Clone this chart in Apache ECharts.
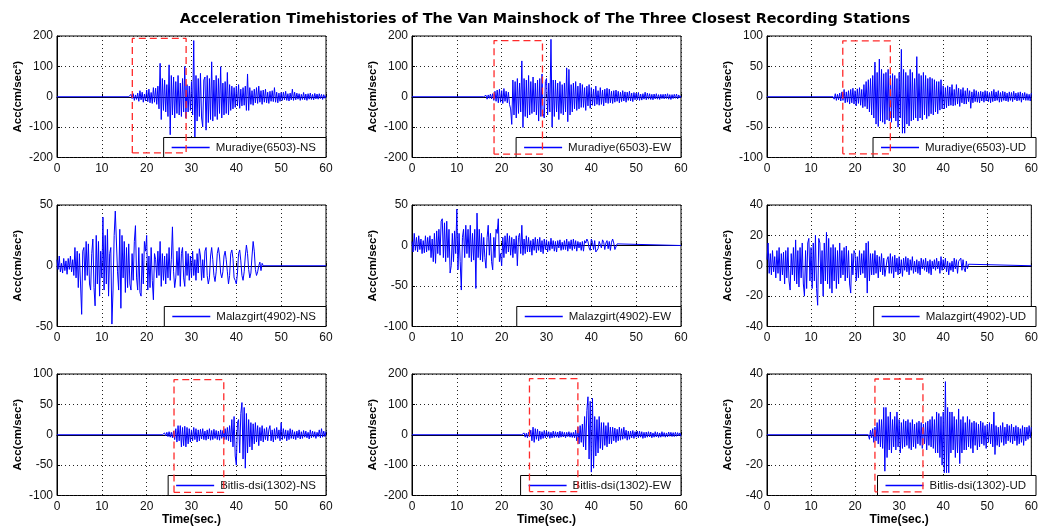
<!DOCTYPE html>
<html>
<head>
<meta charset="utf-8">
<script src="https://cdn.jsdelivr.net/npm/echarts@6/dist/echarts.min.js"></script>
<style>
  html, body { margin: 0; padding: 0; background: #fff; }
  #main { width: 1041px; height: 528px; }
</style>
</head>
<body>
<div id="main"></div>
<script>
// sampled every 0.25 s, starting at the time in `starts`
var dt = 0.25;

var stations = ['Muradiye(6503)-NS', 'Muradiye(6503)-EW', 'Muradiye(6503)-UD',
                'Malazgirt(4902)-NS', 'Malazgirt(4902)-EW', 'Malazgirt(4902)-UD',
                'Bitlis-dsi(1302)-NS', 'Bitlis-dsi(1302)-EW', 'Bitlis-dsi(1302)-UD'];
var starts = [16, 16, 15, 0, 0, 0, 23.5, 24.5, 23];

var muradiyeNS = [
  0,-5,8,-6,10,-12,6,-9,
  12,-15,20,-10,15,-18,9,-14,
  22,-16,25,-20,14,-22,30,-18,
  28,-25,35,-40,110,-75,60,-45,
  55,-50,40,-65,105,-125,70,-60,
  65,-70,50,-55,70,-60,45,-65,
  60,-50,100,-70,40,-50,35,-45,
  50,-60,185,-140,70,-80,60,-65,
  77,-70,-99,55,65,-110,70,-85,
  60,-75,115,-80,55,-65,70,-75,
  60,-55,99,-70,45,-60,50,-55,
  80,-60,40,-45,35,-40,30,-35,
  35,-30,40,-38,25,-30,30,-28,
  35,-45,75,-45,30,-25,20,-28,
  25,-20,30,-22,35,-18,20,-25,
  22,-18,25,-20,15,-22,18,-15,
  20,-16,30,-18,15,-20,12,-15,
  14,-12,15,-10,18,-12,10,-14,
  12,-10,25,-12,15,-10,12,-8,
  10,-12,8,-9,14,-10,9,-12,
  10,-8,12,-9,8,-10,11,-7,
  9,-8,10,-6,8,-9,7,-5,4
];
var muradiyeEW = [
  0,-6,5,-8,6,-5,9,-7,
  10,-12,18,-15,22,-20,25,-18,
  20,-22,27,-15,18,-20,15,-25,
  -40,-91,55,-60,50,-70,60,-55,
  45,-50,118,-101,60,-65,55,-70,
  70,-60,50,-55,65,-50,45,-60,
  55,-80,60,-65,75,-55,-70,50,
  60,-60,45,-50,189,-100,55,-65,
  55,-50,45,-75,50,-55,40,-60,
  45,-50,95,-82,90,-60,40,-50,
  45,-40,50,-45,35,-40,45,-35,
  40,-35,30,-45,35,-30,40,-38,
  30,-28,25,-30,35,-25,20,-28,
  30,-25,22,-30,25,-20,28,-22,
  25,-20,18,-22,20,-18,22,-15,
  18,-20,15,-16,20,-14,16,-18,
  15,-12,18,-14,12,-16,14,-10,
  12,-10,14,-12,9,-11,10,-8,
  15,-10,12,-8,10,-9,8,-10,
  9,-7,10,-8,7,-9,8,-6,
  8,-7,9,-6,10,-8,7,-9,
  7,-6,8,-5,9,-7,6,-4,3
];
var muradiyeUD = [
  0,-4,5,-6,4,-5,6,-7,
  8,-6,12,-10,8,-9,10,-12,
  12,-10,14,-12,10,-15,13,-11,
  15,-14,12,-18,20,-16,25,-20,
  28,-25,30,-30,35,-35,57,-45,
  40,-49,62,-40,45,-42,38,-45,
  40,-38,45,-40,35,-42,38,-35,
  35,-40,30,-50,40,-35,78,-60,
  45,-60,40,-45,35,-48,45,-40,
  40,-38,30,-35,66,-40,38,-35,
  35,-38,40,-30,35,-36,30,-32,
  32,-28,30,-30,28,-25,25,-28,
  25,-22,28,-20,18,-20,15,-18,
  18,-15,16,-14,20,-15,12,-14,
  20,-12,14,-16,12,-10,15,-12,
  10,-12,14,-8,10,-19,8,-10,
  12,-8,10,-9,8,-10,9,-7,
  8,-9,10,-7,9,-8,7,-10,
  9,-8,12,-7,8,-6,10,-9,
  7,-8,9,-6,8,-7,6,-8,
  8,-6,7,-8,9,-5,6,-7,
  7,-6,8,-9,6,-5,7,-6,
  5,-6,4,-7,6
];
var malazgirtNS = [
  5,-3,8,-5,2,-6,6,-4,
  4,-7,6,-3,8,-5,5,-8,
  15,-10,12,-18,10,-15,-40,12,
  15,-12,20,-8,18,-15,-20,10,
  22,-18,-33,25,-15,20,-25,12,
  -10,40,-20,25,-15,30,-25,10,
  15,-48,-20,25,45,44,-5,-20,
  30,-35,25,-10,20,-22,15,-18,
  18,-15,-20,10,-12,20,33,-10,
  -20,15,-22,-25,10,-15,20,12,
  25,-20,8,-18,15,-12,-28,10,
  5,-10,12,-8,20,-17,10,-12,
  8,-15,10,-10,15,-12,5,32,
  -5,-18,-10,12,-8,15,-17,10,
  15,-10,-17,12,-8,10,-12,8,
  -10,12,-8,5,-12,10,-6,14,
  8,-12,5,-10,12,15,-8,-15,
  -10,8,15,5,-8,-13,-5,10,
  15,8,-6,-10,-5,8,12,5,
  -5,-15,-8,10,13,6,-10,-12,
  -15,-6,10,13,4,-8,-12,-5,
  8,17,10,-3,-10,-6,8,20,
  12,-3,-8,-5,0,3,-4,2,
  0
];
var malazgirtEW = [
  5,-8,15,-6,10,-8,12,-5,
  8,-10,6,-9,12,-8,10,-6,
  12,-15,8,-20,15,-22,18,-10,
  20,-12,30,33,-15,28,-20,30,
  -15,20,-34,-25,15,-20,18,-10,
  45,-30,15,-20,-55,10,20,-15,
  25,-10,20,-15,25,-20,15,-18,
  20,-53,40,-15,20,-18,15,-20,
  10,-15,-28,10,25,-12,15,-20,
  -30,10,-15,20,15,33,-20,-10,
  -25,10,-15,12,-10,15,-8,12,
  -12,10,-15,8,-10,12,-25,10,
  15,-10,25,-12,8,-10,12,-8,
  10,-8,6,-12,8,-6,10,-9,
  8,-6,10,-8,6,-10,8,-5,
  7,-8,5,-6,9,-4,6,-7,
  5,-8,6,-3,7,-6,4,-5,
  6,-5,8,-7,5,-4,7,-6,
  8,-4,6,-7,5,-3,4,-6,
  5,-7,6,3,8,5,-3,-6,
  8,4,-5,6,-8,-10,-4,5,
  6,-3,7,4,-5,3,6,-4,
  5,-6,4,8,3,-5,-3,2,
  0
];
var malazgirtUD = [
  4,15,-5,8,-6,10,-4,6,
  -8,10,-5,12,-10,8,-6,9,
  -12,10,-8,12,-10,-16,8,-6,
  12,-10,17,-12,10,-14,12,-8,
  15,-12,-20,10,-15,15,18,-10,
  12,-15,15,-10,20,-15,-26,18,
  15,-12,10,-20,15,-10,22,-12,
  18,-15,12,-18,14,-10,12,-15,
  10,-12,15,-8,10,-6,12,-10,
  13,-8,10,-12,-18,8,-6,10,
  8,-10,6,-8,10,-6,8,-5,
  10,-8,15,-18,16,-10,8,-6,
  8,-6,10,-5,7,-8,6,-4,
  8,-6,5,-7,-8,4,6,-5,
  8,-5,6,-8,7,-4,5,-6,
  6,-5,4,-7,5,-3,6,-4,
  5,-6,4,-3,6,-5,3,-4,
  4,-5,3,-6,5,-2,4,-3,
  5,-4,3,-5,4,-6,3,-2,
  4,-3,5,-2,3,-5,6,-3,
  4,-2,5,-4,3,-6,2,-3,
  3,-4,5,-2,4,-5,3,2,
  5,-3,4,-2,-4,3,-2,1,
  0
];
var bitlisNS = [
  0,-3,3,-2,4,-3,5,-4,
  4,-5,6,-8,10,-12,15,-10,
  15,-20,12,-18,14,-20,12,-15,
  10,-12,8,-10,12,-8,10,-12,
  8,-10,9,-7,10,-8,6,-9,
  8,-7,10,-9,7,-8,9,-6,
  7,-8,6,-9,8,-6,7,-8,
  10,-8,12,-10,15,-12,25,-20,
  30,-35,-50,20,25,-30,35,53,
  -40,45,-55,35,-30,25,-20,20,
  -25,18,-15,20,-12,15,-18,12,
  -10,15,-12,10,-8,12,-10,8,
  15,-10,8,-12,10,-8,12,-6,
  8,-10,20,-8,10,-6,8,-10,
  7,-8,10,-6,8,-7,5,-8,
  6,-5,8,-7,5,-6,7,-4,
  6,-5,4,-7,8,-5,6,-4,
  5,-6,4,-3,8,-5,10,-4,
  6,-3,5
];
var bitlisEW = [
  0,-5,6,-8,5,-10,8,-6,
  15,-20,25,-25,20,-15,18,-20,
  12,-15,10,-12,14,-10,12,-8,
  10,-12,8,-10,12,-9,10,-8,
  9,-10,12,-8,10,-7,8,-10,
  8,-6,10,-8,7,-9,8,-10,
  15,-20,25,-30,30,-25,35,-40,
  60,-50,80,125,-80,110,-123,120,
  -110,60,-70,50,-60,60,-45,40,
  -50,40,-35,30,-40,40,-30,25,
  -30,25,-20,22,-25,18,-20,25,
  -18,20,-15,25,-12,15,-18,12,
  -15,12,-10,14,-12,10,-8,12,
  -10,12,-8,10,-12,8,-10,9,
  -8,10,-7,9,-10,6,-8,10,
  -7,8,-9,6,-8,10,-6,7,
  -8,6,-7,9,-5,8,-6,7,
  -6,8,-5,7,-4,6,-5
];
var bitlisUD = [
  0,-3,3,-2,4,-5,5,-4,
  8,-6,10,-8,10,-9,18,-24,
  18,-15,12,-10,15,-12,10,-8,
  12,-10,15,-8,10,-12,8,-9,
  10,-8,9,-7,10,-9,8,-10,
  10,-8,7,-9,8,-6,9,-7,
  8,-9,7,-6,8,-10,9,-7,
  10,-8,12,-9,10,-12,15,-12,
  14,-15,12,-20,15,-25,35,-25,
  18,-25,15,-12,15,-10,12,-15,
  10,-12,17,-19,10,-12,12,-10,
  8,-10,12,-8,10,-9,8,-12,
  9,-7,8,-10,7,-8,9,-6,
  8,-7,6,-9,7,-5,8,-6,
  7,-8,15,-13,6,-7,5,-8,
  6,-5,8,-7,5,-6,7,-4,
  6,-5,7,-6,5,-4,6,-7,
  5,-6,4,-5,6,-7,5,-4,
  5,-3,6,-2,5
];
var traces = [muradiyeNS, muradiyeEW, muradiyeUD, malazgirtNS, malazgirtEW, malazgirtUD, bitlisNS, bitlisEW, bitlisUD];

var yMin  = [-200, -200, -100, -50, -100, -40, -100, -200, -40];
var yMax  = [ 200,  200,  100,  50,   50,  40,  100,  200,  40];
var yStep = [ 100,  100,   50,  50,   50,  20,   50,  100,  20];

// red dashed windows (time from/to, acc low/high); null = none
var winT0 = [16.8, 18.3, 17.2, null, null, null, 26.1, 26.2, 24.5];
var winT1 = [28.8, 29.1, 28.0, null, null, null, 37.2, 37.0, 35.4];
var winLo = [-185, -189, -94,  null, null, null, -95, -187, -37.6];
var winHi = [ 192,  185,  92,  null, null, null, 90.6, 185, 36.7];

var FONT = '"Liberation Sans", Arial, Helvetica, sans-serif';
var colLeft = [57, 412, 767];
var rowTop = [36, 205, 374];
var plotW = 269, plotH = 121.5;

function buildTrace(vals, t0) {
    var pts = [];
    if (t0 > 0) pts.push([0, 0]);
    vals.forEach(function (v, i) {
        pts.push([t0 + i * dt, v]);
    });
    var last = t0 + (vals.length - 1) * dt;
    if (last < 60) pts.push([60, 0]);   // no record after this, flat
    return pts;
}

var grids = [], xAxes = [], yAxes = [], series = [], legends = [];

stations.forEach(function (name, k) {
    var col = k % 3, row = Math.floor(k / 3);
    var left = colLeft[col], top = rowTop[row];

    grids.push({
        left: left, top: top, width: plotW, height: plotH,
        show: true, borderColor: '#000', borderWidth: 1, backgroundColor: '#fff'
    });

    xAxes.push({
        type: 'value', gridIndex: k, min: 0, max: 60, interval: 10,
        axisLine: { show: true, lineStyle: { color: '#000', width: 1 } },
        axisTick: { show: true, inside: true, length: 3, lineStyle: { color: '#000' } },
        axisLabel: { color: '#111', fontSize: 12, fontFamily: FONT, margin: 5 },
        splitLine: { show: true, lineStyle: { color: '#222', width: 1, type: [1, 3] } },
        name: row === 2 ? 'Time(sec.)' : '',
        nameLocation: 'middle', nameGap: 18,
        nameTextStyle: { color: '#000', fontSize: 12, fontWeight: 'bold', fontFamily: FONT }
    });

    yAxes.push({
        type: 'value', gridIndex: k, min: yMin[k], max: yMax[k], interval: yStep[k],
        axisLine: { show: true, lineStyle: { color: '#000', width: 1 } },
        axisTick: { show: true, inside: true, length: 3, lineStyle: { color: '#000' } },
        axisLabel: { color: '#111', fontSize: 12, fontFamily: FONT, margin: 4 },
        splitLine: { show: true, lineStyle: { color: '#222', width: 1, type: [1, 3] } },
        name: 'Acc(cm/sec²)',
        nameLocation: 'middle', nameGap: 33,
        nameTextStyle: { color: '#000', fontSize: 11.5, fontWeight: 'bold', fontFamily: FONT }
    });

    series.push({
        type: 'line', name: name, xAxisIndex: k, yAxisIndex: k,
        data: buildTrace(traces[k], starts[k]),
        symbol: 'none', silent: true,
        lineStyle: { color: '#0000ff', width: 1 },
        itemStyle: { color: '#0000ff' },
        z: 2
    });

    if (winT0[k] !== null) {
        series.push({
            type: 'line', name: 'window' + k, xAxisIndex: k, yAxisIndex: k,
            data: [[winT0[k], winLo[k]], [winT0[k], winHi[k]], [winT1[k], winHi[k]],
                   [winT1[k], winLo[k]], [winT0[k], winLo[k]]],
            symbol: 'none', silent: true,
            lineStyle: { color: '#ff2a2a', width: 1.3, type: [7, 4] },
            z: 6
        });
    }

    legends.push({
        data: [name],
        right: 1041 - (left + plotW),
        bottom: 528 - (top + plotH),
        backgroundColor: '#fff', borderColor: '#000', borderWidth: 1, borderRadius: 0,
        padding: [4, 10, 4, 8],
        icon: 'rect', itemWidth: 38, itemHeight: 1.4, itemGap: 4,
        itemStyle: { color: '#0000ff', borderWidth: 0, borderColor: '#0000ff' },
        selectedMode: false,
        textStyle: { color: '#111', fontSize: 11.5, fontFamily: FONT, padding: [0, 0, 0, 1] }
    });
});

var myChart = echarts.init(document.getElementById('main'), null, { renderer: 'canvas' });
myChart.setOption({
    animation: false,
    backgroundColor: '#fff',
    title: {
        text: 'Acceleration Timehistories of The Van Mainshock of The Three Closest Recording Stations',
        left: 545, top: 12, textAlign: 'center', padding: 0,
        textStyle: { color: '#000', fontSize: 14.4, fontWeight: 'bold', fontFamily: '"DejaVu Sans", sans-serif' }
    },
    legend: legends,
    grid: grids,
    xAxis: xAxes,
    yAxis: yAxes,
    series: series
});
</script>
</body>
</html>
